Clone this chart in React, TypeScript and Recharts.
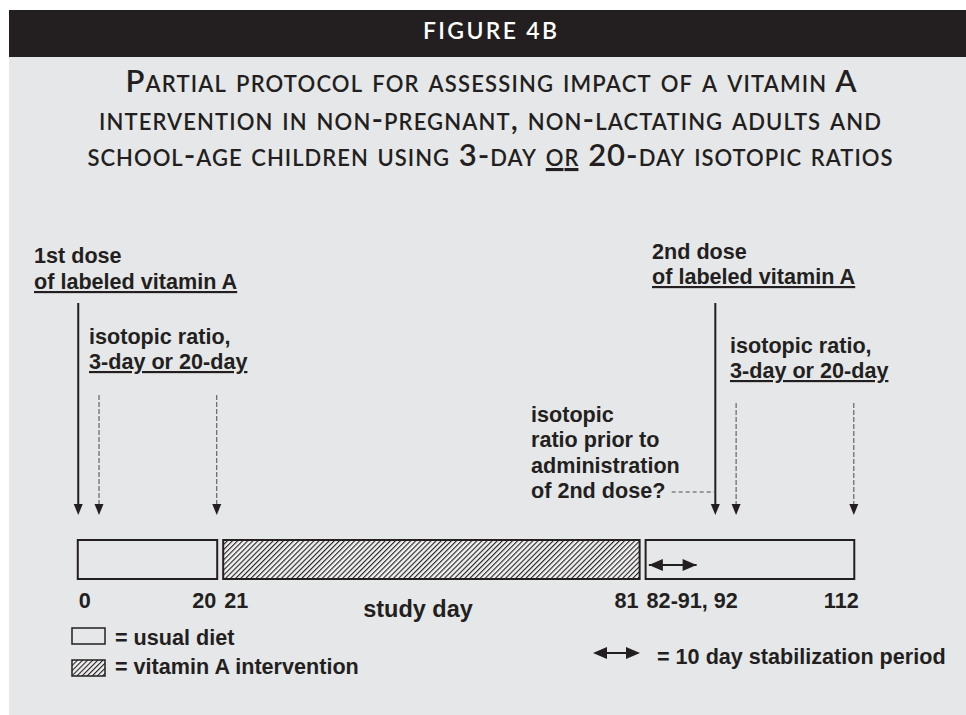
import React from "react";
import {
  ComposedChart,
  XAxis,
  YAxis,
  Scatter,
  ReferenceArea,
  ReferenceLine,
} from "recharts";

const INK = "#231f20";
const PANEL = "#e6e7e8";
const DASH = "#4a4a4a";

// study periods (inclusive days)
const PERIOD_START = [0, 21, 82];
const PERIOD_END = [20, 81, 112];
const PERIOD_KIND = ["diet", "intervention", "diet"];
const START_LABELS = ["0", "21", "82-91, 92"];
const END_LABELS = ["20", "81", "112"];

// labeled vitamin A doses
const DOSE_DAYS = [0, 92];
// isotopic ratio, 3-day or 20-day after each dose
const SAMPLE_DAYS = [3, 20, 95, 112];
const SAMPLE_DOSE = [1, 1, 2, 2];

// stabilization arrow drawn in the last box, and the dashed leader of the "?" note
const STAB_FROM = 82.4;
const STAB_TO = 89.3;
const QUESTION_FROM = 85.7;

// layout (panel pixels)
const W = 957;
const H = 705;
const DAY_DOMAIN: [number, number] = [-10, 128.2];
const BOX_TOP = 530;
const BOX_BOTTOM = 569;
const INSET = 3;
const TIP_Y = 505;
const DOSE_TOP = 293;
const SAMPLE_TOP: Record<number, number> = { 1: 385, 2: 393 };
const STAB_Y = 555;
const QUESTION_Y = 482;
const TICK_Y = 598;

const bodyFont = "'Liberation Sans', Arial, Helvetica, sans-serif";
const txt = {
  fontFamily: bodyFont,
  fontWeight: 700,
  fontSize: 21.6,
  fill: INK,
} as const;

function Head(props: any) {
  const { cx, cy, payload } = props;
  if (cx == null || cy == null) return null;
  let d = "";
  if (payload.dir === "down") {
    d = `M${cx - 4.5},${cy - 11}L${cx + 4.5},${cy - 11}L${cx},${cy}Z`;
  } else if (payload.dir === "left") {
    d = `M${cx},${cy}L${cx + 14},${cy - 6}L${cx + 14},${cy + 6}Z`;
  } else {
    d = `M${cx},${cy}L${cx - 14},${cy - 6}L${cx - 14},${cy + 6}Z`;
  }
  return <path d={d} fill={INK} />;
}

function periodShape(i: number) {
  return (p: any) => {
    const x = p.x + INSET;
    const w = p.width - 2 * INSET;
    return (
      <g>
        <rect
          x={x}
          y={p.y}
          width={w}
          height={p.height}
          fill={PERIOD_KIND[i] === "intervention" ? "url(#hatch)" : PANEL}
          stroke={INK}
          strokeWidth={2}
        />
        <text {...txt} x={x + 1} y={TICK_Y} textAnchor="start">
          {START_LABELS[i]}
        </text>
        <text {...txt} x={x + w - 13} y={TICK_Y} textAnchor="middle">
          {END_LABELS[i]}
        </text>
      </g>
    );
  };
}

function Hatch({ id }: { id: string }) {
  return (
    <pattern
      id={id}
      patternUnits="userSpaceOnUse"
      width={3.6}
      height={3.6}
      patternTransform="rotate(45)"
    >
      <rect width={3.6} height={3.6} fill="#f1f1f1" />
      <line x1={0} y1={0} x2={0} y2={3.6} stroke={INK} strokeWidth={2.2} />
    </pattern>
  );
}

export default function App() {
  const heads = [
    ...DOSE_DAYS.map((day) => ({ day, y: TIP_Y, dir: "down" })),
    ...SAMPLE_DAYS.map((day) => ({ day, y: TIP_Y, dir: "down" })),
    { day: STAB_FROM, y: STAB_Y, dir: "left" },
    { day: STAB_TO, y: STAB_Y, dir: "right" },
  ];

  const titleFont = "Lato, 'Open Sans', sans-serif";

  return (
    <div
      style={{
        position: "absolute",
        left: 9,
        top: 10,
        width: W,
        height: H,
        background: PANEL,
        overflow: "hidden",
      }}
    >
      <div style={{ position: "absolute", left: 0, top: 0 }}>
        <ComposedChart
          width={W}
          height={H}
          margin={{ top: 0, right: 0, bottom: 0, left: 0 }}
        >
          <defs>
            <Hatch id="hatch" />
          </defs>
          <XAxis
            type="number"
            dataKey="day"
            domain={DAY_DOMAIN}
            allowDataOverflow
            hide
          />
          <YAxis
            type="number"
            dataKey="y"
            domain={[0, H]}
            reversed
            allowDataOverflow
            hide
          />
          {PERIOD_START.map((s, i) => (
            <ReferenceArea
              key={"p" + i}
              x1={s - 0.5}
              x2={PERIOD_END[i] + 0.5}
              y1={BOX_TOP}
              y2={BOX_BOTTOM}
              ifOverflow="visible"
              shape={periodShape(i)}
            />
          ))}
          {DOSE_DAYS.map((d) => (
            <ReferenceLine
              key={"d" + d}
              segment={[
                { x: d, y: DOSE_TOP },
                { x: d, y: TIP_Y - 9 },
              ]}
              stroke={INK}
              strokeWidth={2}
              ifOverflow="visible"
            />
          ))}
          {SAMPLE_DAYS.map((d, i) => (
            <ReferenceLine
              key={"s" + d}
              segment={[
                { x: d, y: SAMPLE_TOP[SAMPLE_DOSE[i]] },
                { x: d, y: TIP_Y - 9 },
              ]}
              stroke={DASH}
              strokeWidth={1}
              strokeDasharray="5 2"
              ifOverflow="visible"
            />
          ))}
          <ReferenceLine
            segment={[
              { x: QUESTION_FROM, y: QUESTION_Y },
              { x: DOSE_DAYS[1], y: QUESTION_Y },
            ]}
            stroke={DASH}
            strokeWidth={1}
            strokeDasharray="4 3"
            ifOverflow="visible"
          />
          <ReferenceLine
            segment={[
              { x: STAB_FROM, y: STAB_Y },
              { x: STAB_TO, y: STAB_Y },
            ]}
            stroke={INK}
            strokeWidth={2}
            ifOverflow="visible"
          />
          <Scatter
            data={heads}
            dataKey="y"
            shape={Head}
            isAnimationActive={false}
          />
        </ComposedChart>
      </div>

      <svg
        width={W}
        height={H}
        style={{ position: "absolute", left: 0, top: 0, pointerEvents: "none" }}
      >
        <defs>
          <Hatch id="hatch2" />
        </defs>
        <rect x={0} y={0} width={W} height={47} fill={INK} />
        <text
          x={481}
          y={29}
          textAnchor="middle"
          fill="#ffffff"
          fontFamily={titleFont}
          fontWeight={600}
          fontSize={23}
          textLength={134}
          lengthAdjust="spacing"
        >
          FIGURE 4B
        </text>
        <g
          fontFamily={titleFont}
          fontSize={31}
          fontWeight={600}
          fill={INK}
          textAnchor="middle"
          style={{ fontVariant: "small-caps" }}
        >
          <text x={482} y={82} textLength={731} lengthAdjust="spacing">
            Partial protocol for assessing impact of a vitamin A
          </text>
          <text x={481} y={119.5} textLength={782} lengthAdjust="spacing">
            intervention in non-pregnant, non-lactating adults and
          </text>
          <text x={481} y={156} textLength={805} lengthAdjust="spacing">
            school-age children using 3-day{" "}
            <tspan textDecoration="underline">or</tspan> 20-day isotopic ratios
          </text>
        </g>

        <g {...txt}>
          <text x={25} y={253}>1st dose</text>
          <text x={25} y={279} textDecoration="underline">
            of labeled vitamin A
          </text>
          <text x={80} y={334}>isotopic ratio,</text>
          <text x={80} y={359} textDecoration="underline">
            3-day or 20-day
          </text>

          <text x={643} y={249}>2nd dose</text>
          <text x={643} y={274} textDecoration="underline">
            of labeled vitamin A
          </text>
          <text x={721} y={343}>isotopic ratio,</text>
          <text x={721} y={368} textDecoration="underline">
            3-day or 20-day
          </text>

          <text x={522} y={412}>isotopic</text>
          <text x={522} y={437}>ratio prior to</text>
          <text x={522} y={463}>administration</text>
          <text x={522} y={488}>of 2nd dose?</text>

          <text x={409} y={607} fontSize={23.5} textAnchor="middle">
            study day
          </text>

          <rect x={63} y={618} width={33} height={16} fill={PANEL} stroke={INK} strokeWidth={1.5} />
          <text x={106} y={635}>= usual diet</text>
          <rect x={63} y={650} width={33} height={16} fill="url(#hatch2)" stroke={INK} strokeWidth={1.5} />
          <text x={106} y={664}>= vitamin A intervention</text>

          <line x1={590} y1={643} x2={625} y2={643} stroke={INK} strokeWidth={2} />
          <path d="M584,643L598,637L598,649Z" fill={INK} />
          <path d="M631,643L617,637L617,649Z" fill={INK} />
          <text x={648} y={654}>= 10 day stabilization period</text>
        </g>
      </svg>
    </div>
  );
}
